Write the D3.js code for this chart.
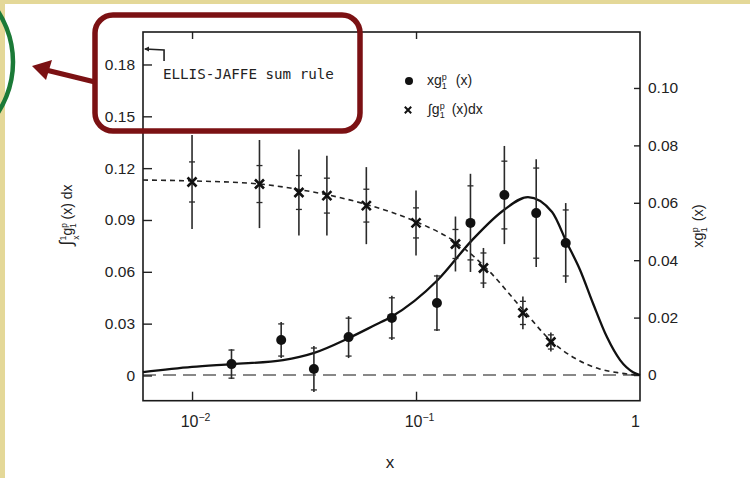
<!DOCTYPE html>
<html>
<head>
<meta charset="utf-8">
<script src="https://d3js.org/d3.v7.min.js"></script>
<style>
  body { margin: 0; background: #fff; }
  svg text { font-family: "Liberation Sans", Arial, sans-serif; fill: #222; }
  .tick line { stroke: #222; stroke-width: 1.4; }
</style>
</head>
<body>
<svg id="chart" width="750" height="478"></svg>
<script>
// x g1p(x) points (right axis)
const dotX     = [0.015, 0.025, 0.035, 0.050, 0.078, 0.124, 0.175, 0.248, 0.344, 0.466];
const dotY     = [0.0038, 0.0122, 0.0021, 0.0132, 0.0199, 0.0251, 0.0530, 0.0627, 0.0564, 0.0460];
const dotTot   = [0.0052, 0.0063, 0.0080, 0.0073, 0.0077, 0.0098, 0.0171, 0.0171, 0.0188, 0.0139];
const dotStat  = [0.0049, 0.0056, 0.0073, 0.0066, 0.0070, 0.0094, 0.0129, 0.0118, 0.0157, 0.0115];

// integral of g1p from x to 1 (left axis)
const crossX    = [0.010, 0.020, 0.030, 0.040, 0.060, 0.100, 0.150, 0.200, 0.300, 0.400];
const crossY    = [0.1120, 0.1108, 0.1059, 0.1041, 0.0983, 0.0883, 0.0761, 0.0622, 0.0362, 0.0194];
const crossTot  = [0.0272, 0.0255, 0.0249, 0.0231, 0.0223, 0.0188, 0.0159, 0.0116, 0.0095, 0.0055];
const crossStat = [0.0116, 0.0107, 0.0098, 0.0101, 0.0095, 0.0087, 0.0084, 0.0087, 0.0067, 0.0041];

// fitted curves
const fitX  = [0.00604, 0.01, 0.0151, 0.0255, 0.0351, 0.0502, 0.0656, 0.0773, 0.125, 0.178, 0.247, 0.316, 0.405, 0.472, 0.54, 0.616, 0.712, 0.815, 0.931, 1.0];
const fitY  = [0.0010, 0.0028, 0.0038, 0.0052, 0.0077, 0.0129, 0.0174, 0.0202, 0.0331, 0.0470, 0.0575, 0.0620, 0.0568, 0.0460, 0.0366, 0.0251, 0.0132, 0.0052, 0.0010, 0.0];
const intX  = [0.00604, 0.0101, 0.0201, 0.0307, 0.0405, 0.0611, 0.101, 0.152, 0.199, 0.301, 0.397, 0.51, 0.66, 0.815, 1.0];
const intY  = [0.1131, 0.1126, 0.1108, 0.1074, 0.1045, 0.0987, 0.0888, 0.0767, 0.0640, 0.0379, 0.0205, 0.0101, 0.0038, 0.0014, 0.0];

const ellisJaffe = 0.189;

const leftTicks  = [0, 0.03, 0.06, 0.09, 0.12, 0.15, 0.18];
const leftLabels = ["0", "0.03", "0.06", "0.09", "0.12", "0.15", "0.18"];
const rightTicks  = [0, 0.02, 0.04, 0.06, 0.08, 0.10];
const rightLabels = ["0", "0.02", "0.04", "0.06", "0.08", "0.10"];
const xTicks = [0.01, 0.1, 1];
const xTickBase = ["10", "10", "1"];
const xTickExp  = ["-2", "-1", ""];

var svg = d3.select("#chart");
var L = 143, R = 640, T = 32, B = 400.7;

var x = d3.scaleLog().domain([0.00604, 1]).range([L, R]);
var yL = d3.scaleLinear().domain([-0.0146, 0.1988]).range([B, T]);
var yR = d3.scaleLinear().domain([-0.00895, 0.1195]).range([B, T]);

// yellowish page edges
svg.append("rect").attr("x", 0).attr("y", 0).attr("width", 750).attr("height", 4).attr("fill", "#e4d898");
svg.append("rect").attr("x", 0).attr("y", 0).attr("width", 5).attr("height", 478).attr("fill", "#e4d898");

// zero line
svg.append("line")
    .attr("x1", L).attr("x2", R)
    .attr("y1", yR(0)).attr("y2", yR(0))
    .attr("stroke", "#888").attr("stroke-width", 2)
    .attr("stroke-dasharray", "13,7");

// axes
svg.append("g").attr("transform", "translate(" + L + ",0)")
    .call(d3.axisLeft(yL).tickValues(leftTicks).tickSizeInner(-9).tickSizeOuter(0).tickPadding(8)
        .tickFormat((d, i) => leftLabels[i]))
    .call(g => g.select(".domain").remove())
    .call(g => g.selectAll("text").attr("font-size", 15.5).attr("fill", "#222"));

svg.append("g").attr("transform", "translate(" + R + ",0)")
    .call(d3.axisRight(yR).tickValues(rightTicks).tickSizeInner(-6).tickSizeOuter(0).tickPadding(8)
        .tickFormat((d, i) => rightLabels[i]))
    .call(g => g.select(".domain").remove())
    .call(g => g.selectAll("text").attr("font-size", 15.5).attr("fill", "#222"));

var xAxis = svg.append("g").attr("transform", "translate(0," + B + ")")
    .call(d3.axisBottom(x).tickValues(xTicks).tickSizeInner(-9).tickSizeOuter(0).tickPadding(15)
        .tickFormat(() => ""))
    .call(g => g.select(".domain").remove());
xAxis.selectAll(".tick").filter(d => d === 1).select("line").remove();
xAxis.selectAll(".tick text").each(function (d, i) {
    var t = d3.select(this).attr("font-size", 16).attr("fill", "#222")
        .attr("dx", d === 1 ? -5 : 3);
    t.append("tspan").text(xTickBase[i]);
    if (xTickExp[i]) t.append("tspan").attr("dy", -6).attr("font-size", 10.5).text(xTickExp[i].replace("-", "\u2212"));
});

svg.append("g").attr("transform", "translate(0," + T + ")")
    .call(d3.axisTop(x).tickValues([0.01, 0.1]).tickSizeInner(-7).tickSizeOuter(0).tickFormat(() => ""))
    .call(g => g.select(".domain").remove());

// frame
svg.append("rect").attr("x", L).attr("y", T).attr("width", R - L).attr("height", B - T)
    .attr("fill", "none").attr("stroke", "#1a1a1a").attr("stroke-width", 1.6);

// fit curves
var fitLine = d3.line().x(d => x(d[0])).y(d => yR(d[1])).curve(d3.curveMonotoneX);
svg.append("path").datum(fitX.map((v, i) => [v, fitY[i]]))
    .attr("d", fitLine).attr("fill", "none").attr("stroke", "#111").attr("stroke-width", 2.3);

var intLine = d3.line().x(d => x(d[0])).y(d => yL(d[1])).curve(d3.curveMonotoneX);
svg.append("path").datum(intX.map((v, i) => [v, intY[i]]))
    .attr("d", intLine).attr("fill", "none").attr("stroke", "#222").attr("stroke-width", 1.6)
    .attr("stroke-dasharray", "5,4");

// error bars
function errorBars(xs, ys, tot, stat, yScale) {
    var g = svg.append("g").attr("stroke", "#2a2a2a");
    xs.forEach(function (xv, i) {
        var cx = x(xv);
        g.append("line").attr("x1", cx).attr("x2", cx)
            .attr("y1", yScale(ys[i] + tot[i])).attr("y2", yScale(ys[i] - tot[i]))
            .attr("stroke-width", 1.6);
        [ys[i] + stat[i], ys[i] - stat[i]].forEach(function (v) {
            g.append("line").attr("x1", cx - 3).attr("x2", cx + 3)
                .attr("y1", yScale(v)).attr("y2", yScale(v)).attr("stroke-width", 1.3);
        });
    });
}
errorBars(dotX, dotY, dotTot, dotStat, yR);
errorBars(crossX, crossY, crossTot, crossStat, yL);

// markers
svg.append("g").selectAll("circle")
    .data(dotX.map((v, i) => [v, dotY[i]]))
    .enter().append("circle")
    .attr("cx", d => x(d[0])).attr("cy", d => yR(d[1])).attr("r", 5)
    .attr("fill", "#111");

function crossPath(cx, cy, s) {
    return "M" + (cx - s) + "," + (cy - s) + "L" + (cx + s) + "," + (cy + s) +
        "M" + (cx - s) + "," + (cy + s) + "L" + (cx + s) + "," + (cy - s);
}
svg.append("g").selectAll("path")
    .data(crossX.map((v, i) => [v, crossY[i]]))
    .enter().append("path")
    .attr("d", d => crossPath(x(d[0]), yL(d[1]), 4.5))
    .attr("stroke", "#111").attr("stroke-width", 2.6);

// Ellis-Jaffe marker
var ejY = yL(ellisJaffe);
svg.append("path")
    .attr("d", "M" + (L + 2) + "," + ejY + "L" + x(0.0075) + "," + (ejY + 1) + "L" + x(0.0075) + "," + (ejY + 12))
    .attr("fill", "none").attr("stroke", "#222").attr("stroke-width", 1.6);
svg.append("path")
    .attr("d", "M" + (L + 1) + "," + ejY + "L" + (L + 6) + "," + (ejY - 2.5) + "L" + (L + 6) + "," + (ejY + 2.5) + "Z")
    .attr("fill", "#222");
svg.append("text").attr("x", 163).attr("y", 79)
    .attr("font-size", 14.2)
    .style("font-family", "'DejaVu Sans Mono', monospace")
    .text("ELLIS-JAFFE sum rule");

// legend
svg.append("circle").attr("cx", 409).attr("cy", 81).attr("r", 4).attr("fill", "#111");
svg.append("path").attr("d", crossPath(408, 110, 3.2)).attr("stroke", "#111").attr("stroke-width", 2);

var leg1 = svg.append("text").attr("x", 427).attr("y", 85).attr("font-size", 14);
leg1.append("tspan").text("xg");
leg1.append("tspan").attr("dy", -5).attr("font-size", 9).text("p");
leg1.append("tspan").attr("dx", -5).attr("dy", 9).attr("font-size", 9).text("1");
leg1.append("tspan").attr("dx", 9).attr("dy", -4).text("(x)");

var leg2 = svg.append("text").attr("x", 428).attr("y", 114).attr("font-size", 14);
leg2.append("tspan").text("\u222Bg");
leg2.append("tspan").attr("dy", -5).attr("font-size", 9).text("p");
leg2.append("tspan").attr("dx", -5).attr("dy", 9).attr("font-size", 9).text("1");
leg2.append("tspan").attr("dx", 7).attr("dy", -4).text("(x)dx");

// axis titles
var lt = svg.append("text").attr("transform", "translate(72,215) rotate(-90)")
    .attr("text-anchor", "middle").attr("font-size", 14);
lt.append("tspan").attr("font-size", 18).text("\u222B");
lt.append("tspan").attr("dy", -6).attr("font-size", 8.5).text("1");
lt.append("tspan").attr("dx", -4).attr("dy", 13).attr("font-size", 8.5).text("x");
lt.append("tspan").attr("dy", -7).text("g");
lt.append("tspan").attr("dy", -5).attr("font-size", 8.5).text("p");
lt.append("tspan").attr("dx", -5).attr("dy", 9).attr("font-size", 8.5).text("1");
lt.append("tspan").attr("dy", -4).text(" (x) dx");

var rt = svg.append("text").attr("transform", "translate(703,226) rotate(-90)")
    .attr("text-anchor", "middle").attr("font-size", 14.5);
rt.append("tspan").text("xg");
rt.append("tspan").attr("dy", -5).attr("font-size", 9).text("p");
rt.append("tspan").attr("dx", -5).attr("dy", 9).attr("font-size", 9).text("1");
rt.append("tspan").attr("dx", 6).attr("dy", -4).text("(x)");

svg.append("text").attr("x", 390).attr("y", 468).attr("text-anchor", "middle")
    .attr("font-size", 17).text("x");

// annotation overlay
svg.append("circle").attr("cx", -80).attr("cy", 62).attr("r", 93)
    .attr("fill", "none").attr("stroke", "#1b7a37").attr("stroke-width", 4.5);
svg.append("rect").attr("x", 95).attr("y", 15).attr("width", 265).attr("height", 116)
    .attr("rx", 18).attr("fill", "none").attr("stroke", "#7b1113").attr("stroke-width", 5.5);
svg.append("line").attr("x1", 95).attr("y1", 82).attr("x2", 46).attr("y2", 70)
    .attr("stroke", "#7b1113").attr("stroke-width", 5);
svg.append("path").attr("d", "M32,66L52,60L46,80Z").attr("fill", "#7b1113");
</script>
</body>
</html>
